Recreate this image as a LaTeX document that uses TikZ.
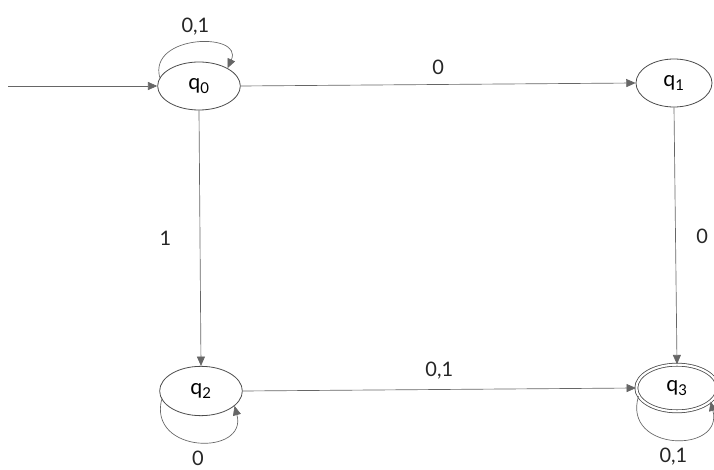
\documentclass[tikz,border=0pt]{standalone}
\usepackage{fontspec}
\setmainfont{Lato}
\usetikzlibrary{arrows.meta,shapes.geometric}
\begin{document}
\begin{tikzpicture}[x=0.75pt,y=-0.75pt,
  state/.style={draw=black!70, line width=0.6pt, ellipse, inner sep=0pt,
    font=\fontsize{16}{16}\selectfont},
  edge/.style={draw=black!60, line width=0.5pt, -{Triangle[length=7pt,width=6pt]}},
  lbl/.style={font=\fontsize{15}{15}\selectfont, text=black!85}]
  \useasboundingbox (0,0) rectangle (714,470);
  \fill[white] (0,0) rectangle (714,470);

  % states
  \node[state, minimum width=62pt, minimum height=36pt] (q0) at (199,86) {q\textsubscript{0}};
  \node[state, minimum width=57pt, minimum height=36pt] (q1) at (674,83) {q\textsubscript{1}};
  \node[state, minimum width=62pt, minimum height=37pt] (q2) at (201,391) {q\textsubscript{2}};
  \node[state, double, double distance=1.6pt, minimum width=61pt, minimum height=35pt] (q3) at (677,388) {q\textsubscript{3}};

  % start arrow
  \coordinate (start) at (8,86);
  \draw[edge] (start) -- (q0.west);

  % transitions
  \draw[edge] (q0.east) -- node[lbl, above=4pt] {0} (q1.west);
  \draw[edge] (q1.south) -- node[lbl, right=12pt] {0} (q3.north);
  \draw[edge] (q0.south) -- node[lbl, left=18pt] {1} (q2.north);
  \draw[edge] (q2.east) -- node[lbl, above=4pt] {0,1} (q3.west);

  % self loops
  \draw[edge] (q0.168) .. controls (148,34) and (244,32) .. (q0.32)
    node[lbl, pos=0.5, above=2pt] {0,1};
  \draw[edge] (q2.192) .. controls (148,454) and (248,456) .. (q2.-24)
    node[lbl, pos=0.5, below=3pt] {0};
  \draw[edge] (q3.192) .. controls (622,452) and (724,454) .. (q3.-22)
    node[lbl, pos=0.5, below=3pt] {0,1};
\end{tikzpicture}
\end{document}
